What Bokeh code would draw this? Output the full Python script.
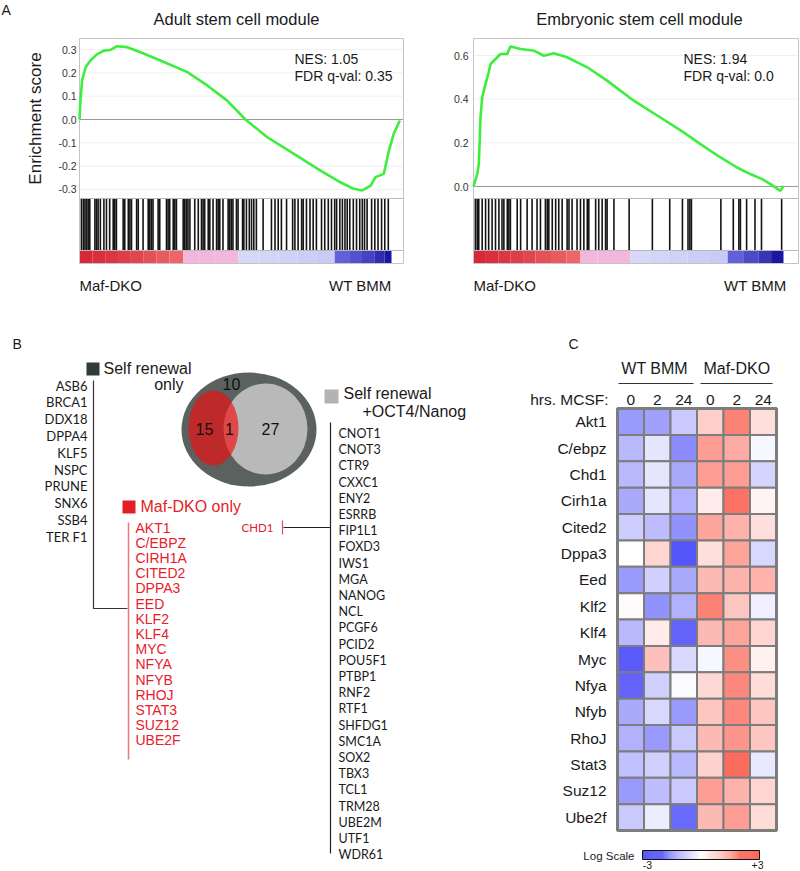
import numpy as np
from bokeh.plotting import figure
from bokeh.models import Range1d, Label, ColumnDataSource, LinearColorMapper
from bokeh.layouts import row, column
from bokeh.core.properties import value
from bokeh.embed import file_html
from bokeh.resources import INLINE

SANS = "Liberation Sans"
HUM = "Lato"

# ---------------- Panel A data (GSEA) ----------------
adult_rank = [0, 0.003, 0.008, 0.019, 0.034, 0.055, 0.076, 0.097, 0.117, 0.149, 0.19, 0.252,
              0.336, 0.398, 0.46, 0.517, 0.585, 0.668, 0.751, 0.813, 0.854, 0.881, 0.907,
              0.922, 0.948, 0.964, 0.979, 0.998]
adult_es = [0, 0.081, 0.167, 0.224, 0.253, 0.28, 0.295, 0.298, 0.314, 0.31, 0.288, 0.253,
            0.203, 0.146, 0.081, 0.0, -0.076, -0.147, -0.219, -0.269, -0.297, -0.304, -0.283,
            -0.247, -0.233, -0.133, -0.061, -0.004]
adult_hits = [0.006, 0.012, 0.017, 0.022, 0.027, 0.032, 0.048, 0.053, 0.058, 0.065, 0.076, 0.084,
              0.094, 0.105, 0.110, 0.115, 0.136, 0.141, 0.152, 0.157, 0.162, 0.178, 0.183, 0.198,
              0.214, 0.219, 0.224, 0.229, 0.245, 0.250, 0.271, 0.276, 0.281, 0.292, 0.297, 0.302,
              0.323, 0.328, 0.333, 0.338, 0.344, 0.359, 0.370, 0.380, 0.385, 0.390, 0.401, 0.406,
              0.416, 0.427, 0.432, 0.437, 0.447, 0.463, 0.468, 0.473, 0.478, 0.489, 0.494, 0.508,
              0.512, 0.520, 0.529, 0.536, 0.543, 0.551, 0.572, 0.598, 0.609, 0.619, 0.629, 0.645,
              0.664, 0.671, 0.681, 0.692, 0.697, 0.707, 0.718, 0.728, 0.738, 0.754, 0.764, 0.775,
              0.785, 0.795, 0.801, 0.811, 0.819, 0.827, 0.834, 0.842, 0.853, 0.863, 0.873, 0.881,
              0.888, 0.896, 0.910, 0.920, 0.930, 0.941, 0.951, 0.962]
adult_strip_edges = [0, 0.04, 0.08, 0.12, 0.16, 0.20, 0.24, 0.28, 0.323, 0.37, 0.42, 0.495,
                     0.56, 0.62, 0.68, 0.74, 0.795, 0.84, 0.88, 0.92, 0.95, 0.972]
adult_strip_metric = [1.0, 0.95, 0.9, 0.85, 0.8, 0.72, 0.65, 0.58, 0.4, 0.32, 0.25,
                      -0.05, -0.1, -0.15, -0.2, -0.25, -0.5, -0.6, -0.7, -0.85, -1.0]

emb_rank = [0, 0.012, 0.017, 0.02, 0.0226, 0.028, 0.0387, 0.049, 0.055, 0.071, 0.087, 0.109,
            0.119, 0.152, 0.195, 0.227, 0.259, 0.302, 0.367, 0.431, 0.517, 0.603, 0.678, 0.732,
            0.797, 0.85, 0.893, 0.931, 0.958, 0.99, 1.0]
emb_es = [0, 0.057, 0.102, 0.209, 0.317, 0.408, 0.469, 0.523, 0.561, 0.584, 0.607, 0.607,
          0.641, 0.63, 0.622, 0.599, 0.61, 0.592, 0.546, 0.485, 0.393, 0.316, 0.248, 0.194,
          0.133, 0.087, 0.057, 0.034, 0.011, -0.02, 0.003]
emb_hits = [0.006, 0.012, 0.017, 0.028, 0.039, 0.049, 0.060, 0.071, 0.082, 0.092, 0.098, 0.109,
            0.114, 0.119, 0.141, 0.152, 0.173, 0.189, 0.205, 0.216, 0.232, 0.238, 0.243, 0.254,
            0.265, 0.275, 0.286, 0.302, 0.308, 0.318, 0.334, 0.345, 0.356, 0.367, 0.372, 0.394,
            0.404, 0.415, 0.426, 0.431, 0.453, 0.502, 0.577, 0.633, 0.674, 0.692, 0.698, 0.703,
            0.798, 0.838, 0.856, 0.861, 0.881, 0.908, 0.929, 0.994]
emb_strip_edges = [0, 0.04, 0.08, 0.12, 0.16, 0.20, 0.25, 0.30, 0.345, 0.40, 0.45, 0.506,
                   0.57, 0.63, 0.69, 0.76, 0.82, 0.87, 0.92, 0.96, 1.0]
emb_strip_metric = [1.0, 0.95, 0.9, 0.85, 0.8, 0.72, 0.65, 0.58, 0.4, 0.32, 0.25,
                    -0.05, -0.1, -0.15, -0.2, -0.25, -0.5, -0.65, -0.8, -1.0]

adult_ticks = [-0.3, -0.2, -0.1, 0.0, 0.1, 0.2, 0.3]
emb_ticks = [0.0, 0.2, 0.4, 0.6]

# ---------------- Panel B data ----------------
self_renewal_only = ["ASB6", "BRCA1", "DDX18", "DPPA4", "KLF5", "NSPC", "PRUNE", "SNX6", "SSB4", "TER F1"]
maf_dko_only = ["AKT1", "C/EBPZ", "CIRH1A", "CITED2", "DPPA3", "EED", "KLF2", "KLF4", "MYC",
                "NFYA", "NFYB", "RHOJ", "STAT3", "SUZ12", "UBE2F"]
shared_genes = ["CHD1"]
oct4_nanog = ["CNOT1", "CNOT3", "CTR9", "CXXC1", "ENY2", "ESRRB", "FIP1L1", "FOXD3", "IWS1", "MGA",
              "NANOG", "NCL", "PCGF6", "PCID2", "POU5F1", "PTBP1", "RNF2", "RTF1", "SHFDG1", "SMC1A",
              "SOX2", "TBX3", "TCL1", "TRM28", "UBE2M", "UTF1", "WDR61"]

# ---------------- Panel C data ----------------
hm_genes = ["Akt1", "C/ebpz", "Chd1", "Cirh1a", "Cited2", "Dppa3", "Eed", "Klf2", "Klf4", "Myc",
            "Nfya", "Nfyb", "RhoJ", "Stat3", "Suz12", "Ube2f"]
hm_groups = ["WT BMM", "Maf-DKO"]
hm_hours = ["0", "2", "24", "0", "2", "24"]
wt_0 = [-1.3, -0.9, -0.9, -1.1, -0.65, 0.0, -1.3, 0.05, -0.9, -2.1, -2.0, -1.1, -1.0, -0.8, -1.3, -0.7]
wt_2 = [-1.2, -0.35, -0.35, -0.35, -0.85, 0.6, -0.6, -1.4, 0.3, 0.9, -0.6, -0.5, -1.3, -0.6, -0.85, -0.25]
wt_24 = [-0.7, -1.5, -1.1, -1.0, -1.4, -2.2, -1.1, -1.0, -2.0, -0.5, -0.05, -1.3, -0.7, -0.9, -0.7, -1.9]
dko_0 = [0.7, 1.4, 1.4, 0.3, 1.3, 0.45, 1.0, 1.8, 1.0, -0.1, 0.55, 0.8, 1.0, 0.65, 1.4, 1.0]
dko_2 = [1.8, 1.2, 1.4, 2.0, 1.1, 1.3, 1.1, 0.8, 1.3, 1.6, 1.7, 1.7, 1.5, 2.1, 1.1, 1.4]
dko_24 = [0.45, -0.1, -0.55, 0.15, 0.45, -0.5, 1.1, -0.2, 0.6, 0.2, 0.5, 0.8, 0.8, -0.3, 0.6, 0.5]
scale_low, scale_high = -3, 3


# ---------------- helpers ----------------
def rgb_hex(c):
    return "#%02x%02x%02x" % tuple(int(round(v)) for v in c)


def lerp(a, b, t):
    t = max(0.0, min(1.0, t))
    return tuple(a[i] + (b[i] - a[i]) * t for i in range(3))


def strip_color(m):
    if m >= 0.5:
        return rgb_hex(lerp((242, 112, 112), (214, 40, 56), (m - 0.5) / 0.5))
    if m >= 0.15:
        return rgb_hex((243, 182, 220))
    if m >= -0.35:
        return rgb_hex(lerp((218, 218, 250), (196, 196, 244), (-m) / 0.35))
    return rgb_hex(lerp((118, 118, 236), (28, 22, 160), (-m - 0.35) / 0.65))


def canvas(width, height, x_range, y_range):
    p = figure(width=width, height=height, title=None, x_range=x_range, y_range=y_range,
               x_axis_location=None, y_axis_location=None, min_border=0,
               toolbar_location=None, output_backend="svg")
    p.outline_line_color = None
    p.background_fill_color = "white"
    p.border_fill_color = "white"
    for g in p.grid:
        g.visible = False
    return p


def lab(p, x, y, text, size, color="#1a1a1a", align="left", baseline="middle", font=SANS, angle=0):
    p.add_layout(Label(x=x, y=y, text=text, text_font_size=size, text_color=color,
                       text_align=align, text_baseline=baseline, text_font=font, angle=angle))


# page pixel rows of panel A
FIG_TOP, FRAME_TOP, ES_BOT, HIT_BOT, FRAME_BOT, FIG_BOT = 0, 38, 198, 250, 263, 308


def gsea_panel(width, page_x0, frame_l, frame_r, rank_one_px, zero_py, unit_px, ticks, tick_px,
               rank, es, hits, edges, metric, title, title_px, nes_px, nes_text, fdr_text,
               wt_px, ylabel=None, letter=None):
    def rx(px):
        return (px - frame_l) / (rank_one_px - frame_l)

    def ey(py):
        return (zero_py - py) / unit_px

    p = canvas(width, FIG_BOT - FIG_TOP, Range1d(rx(page_x0), rx(page_x0 + width)),
               Range1d(ey(FIG_BOT), ey(FIG_TOP)))
    x_end = rx(frame_r)
    # faint gridlines at the ticks
    p.segment(x0=[0] * len(ticks), x1=[x_end] * len(ticks), y0=ticks, y1=ticks,
              line_color="#f0f0f0", line_width=1)
    # ranked-list strip
    p.quad(left=edges[:-1], right=edges[1:], bottom=ey(FRAME_BOT), top=ey(HIT_BOT),
           fill_color=[strip_color(m) for m in metric], line_color=None)
    # hits
    p.segment(x0=hits, y0=ey(ES_BOT), x1=hits, y1=ey(HIT_BOT), line_color="black",
              line_width=1.6, line_alpha=0.92)
    # separators and zero line
    p.segment(x0=[0, 0, 0], x1=[x_end] * 3, y0=[0.0, ey(ES_BOT), ey(HIT_BOT)],
              y1=[0.0, ey(ES_BOT), ey(HIT_BOT)], line_color=["#9a9a9a", "#b8b8b8", "#b8b8b8"],
              line_width=1)
    # plot box
    p.quad(left=[0], right=[x_end], bottom=[ey(FRAME_BOT)], top=[ey(FRAME_TOP)],
           fill_color=None, line_color="#c4c4c4", line_width=1)
    # enrichment curve
    p.line(rank, es, line_color="#3cef3c", line_width=2.6)
    # tick labels
    p.text(x=[rx(tick_px)] * len(ticks), y=ticks, text=["%.1f" % t for t in ticks],
           text_align="right", text_baseline="middle", text_font=value(SANS),
           text_font_size="10.5px", text_color="#333333")

    lab(p, rx(title_px), ey(18), title, "16.5px", align="center")
    lab(p, rx(nes_px), ey(58), nes_text, "14px")
    lab(p, rx(nes_px), ey(75), fdr_text, "14px")
    lab(p, 0, ey(285), "Maf-DKO", "15px")
    lab(p, rx(wt_px), ey(285), "WT BMM", "15px", align="right")
    if ylabel:
        lab(p, rx(35), ey(118), ylabel, "17px", align="center", angle=np.pi / 2)
    if letter:
        lab(p, rx(1), ey(1), letter, "14px", baseline="top")
    return p


pA1 = gsea_panel(420, 0, 79, 403, 400, 119, 233.33, adult_ticks, 76,
                 adult_rank, adult_es, adult_hits, adult_strip_edges, adult_strip_metric,
                 "Adult stem cell module", 236, 294, "NES: 1.05", "FDR q-val: 0.35", 391,
                 ylabel="Enrichment score", letter="A")
pA2 = gsea_panel(380, 420, 473, 798, 783, 186, 218.33, emb_ticks, 468,
                 emb_rank, emb_es, emb_hits, emb_strip_edges, emb_strip_metric,
                 "Embryonic stem cell module", 639, 683, "NES: 1.94", "FDR q-val: 0.0", 786)

# ---------------- Panel B ----------------
B_RIGHT, PAGE_W, PAGE_H = 520, 800, 871
pB = canvas(B_RIGHT, PAGE_H - FIG_BOT, Range1d(0, B_RIGHT), Range1d(PAGE_H, FIG_BOT))

# Venn diagram
pB.ellipse(x=[248.5], y=[429], width=[135], height=[114], fill_color="#5a615f", line_color=None)
pB.ellipse(x=[265], y=[428.5], width=[84], height=[91], fill_color="#b9b9b9", line_color=None)
pB.ellipse(x=[213], y=[427.5], width=[50], height=[75], fill_color="#f20e0e", fill_alpha=0.66,
           line_color=None)
venn_counts = [len(self_renewal_only), len(maf_dko_only), len(shared_genes), len(oct4_nanog)]
pB.text(x=[231, 204, 229, 270], y=[383, 428, 428, 428], text=[str(c) for c in venn_counts],
        text_align="center", text_baseline="middle", text_font=value(SANS),
        text_font_size="16px", text_color="#111111")

# legends
pB.rect(x=[92.5], y=[368.5], width=[13], height=[13], fill_color="#313b38", line_color=None)
lab(pB, 103, 368, "Self renewal", "16px")
lab(pB, 183, 384, "only", "16px", align="right")
pB.rect(x=[128.5], y=[506.5], width=[13], height=[13], fill_color="#e31e25", line_color=None)
lab(pB, 140, 506, "Maf-DKO only", "16px", color="#e31e25")
pB.rect(x=[331], y=[396], width=[14], height=[14], fill_color="#b3b3b3", line_color=None)
lab(pB, 343, 393, "Self renewal", "16px")
lab(pB, 362, 411, "+OCT4/Nanog", "16px")
lab(pB, 12, 343, "B", "14px")

# connectors
pB.line([93, 93, 127], [380, 608, 608], line_color="#333333", line_width=1.2)
pB.line([128, 128], [522, 759], line_color="#e77a7a", line_width=1.5)
pB.line([330, 330], [422, 853], line_color="#222222", line_width=1.2)
pB.line([283, 330], [527, 527], line_color="#222222", line_width=1.2)
pB.line([282, 282], [520, 534], line_color="#e05050", line_width=1.2)

# gene lists
pB.text(x=[87] * len(self_renewal_only), y=[385 + i * 16.8 for i in range(len(self_renewal_only))],
        text=self_renewal_only, text_align="right", text_baseline="middle",
        text_font=value(HUM), text_font_size="13px", text_color="#1a1a1a")
pB.text(x=[135] * len(maf_dko_only), y=[527 + i * 15.2 for i in range(len(maf_dko_only))],
        text=maf_dko_only, text_align="left", text_baseline="middle",
        text_font=value(SANS), text_font_size="14px", text_color="#e8202a")
pB.text(x=[273], y=[527], text=shared_genes, text_align="right", text_baseline="middle",
        text_font=value(HUM), text_font_size="11.5px", text_color="#e8202a")
pB.text(x=[338] * len(oct4_nanog), y=[433 + i * 16.2 for i in range(len(oct4_nanog))],
        text=oct4_nanog, text_align="left", text_baseline="middle",
        text_font=value(HUM), text_font_size="12.5px", text_color="#1a1a1a")

# ---------------- Panel C ----------------
CX0, CW, CY0, CH = 617, 26.5, 408, 26.375


def cx(px):
    return (px - CX0) / CW


def cy(py):
    return (py - CY0) / CH


pC = canvas(PAGE_W - B_RIGHT, PAGE_H - FIG_BOT, Range1d(cx(B_RIGHT), cx(PAGE_W)),
            Range1d(cy(PAGE_H), cy(FIG_BOT)))

BLUE, WHITE, RED = (22, 22, 250), (255, 255, 255), (250, 46, 26)
palette = []
for i in range(256):
    t = i / 255
    palette.append(rgb_hex(lerp(BLUE, WHITE, t / 0.5) if t < 0.5 else lerp(WHITE, RED, (t - 0.5) / 0.5)))
mapper = LinearColorMapper(palette=palette, low=scale_low, high=scale_high)

cols = [wt_0, wt_2, wt_24, dko_0, dko_2, dko_24]
xs, ys, vs = [], [], []
for c, colvals in enumerate(cols):
    for r, v in enumerate(colvals):
        xs.append(c + 0.5)
        ys.append(r + 0.5)
        vs.append(v)
src = ColumnDataSource(dict(x=xs, y=ys, v=vs))
pC.rect(x="x", y="y", width=1, height=1, source=src,
        fill_color={"field": "v", "transform": mapper}, line_color="#7d7d7d", line_width=2)
pC.rect(x=[len(cols) / 2], y=[len(hm_genes) / 2], width=[len(cols)], height=[len(hm_genes)],
        fill_color=None, line_color="#7d7d7d", line_width=3)

pC.text(x=[cx(606)] * len(hm_genes), y=[r + 0.5 for r in range(len(hm_genes))], text=hm_genes,
        text_align="right", text_baseline="middle", text_font=value(SANS),
        text_font_size="15.5px", text_color="#1a1a1a")
pC.text(x=[c + 0.5 for c in range(len(hm_hours))], y=[cy(399)] * len(hm_hours), text=hm_hours,
        text_align="center", text_baseline="middle", text_font=value(SANS),
        text_font_size="15.5px", text_color="#1a1a1a")
lab(pC, cx(608), cy(399), "hrs. MCSF:", "15.5px", align="right")
lab(pC, 1.4, cy(368), hm_groups[0], "16px", align="center")
lab(pC, 4.5, cy(368), hm_groups[1], "16px", align="center")
pC.segment(x0=[cx(618), cx(700)], y0=[cy(383)] * 2, x1=[cx(693), cx(772)], y1=[cy(383)] * 2,
           line_color="#333333", line_width=1.2)
lab(pC, cx(568), cy(343), "C", "14px")

# colour scale
n = 120
sv = [scale_low + (scale_high - scale_low) * (i + 0.5) / n for i in range(n)]
bx0, bx1 = cx(642), cx(759)
edges = [bx0 + (bx1 - bx0) * i / n for i in range(n + 1)]
cb_src = ColumnDataSource(dict(left=edges[:-1], right=edges[1:], v=sv,
                               top=[cy(850)] * n, bottom=[cy(859)] * n))
pC.quad(left="left", right="right", top="top", bottom="bottom", source=cb_src,
        fill_color={"field": "v", "transform": mapper}, line_color=None)
pC.quad(left=[bx0], right=[bx1], top=[cy(850)], bottom=[cy(859)], fill_color=None,
        line_color="#111111", line_width=1)
lab(pC, cx(634), cy(855), "Log Scale", "11.5px", align="right")
lab(pC, cx(647), cy(864), "-3", "10.5px", align="center")
lab(pC, cx(757), cy(864), "+3", "10.5px", align="center")

layout = column(row(pA1, pA2), row(pB, pC))
open("out.html", "w").write(file_html(layout, INLINE))
